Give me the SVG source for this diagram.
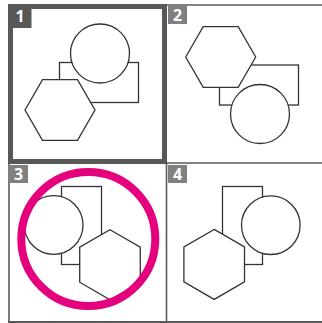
<svg xmlns="http://www.w3.org/2000/svg" width="322" height="323" viewBox="0 0 322 323">
<style>
.shape{fill:#fff;stroke:#333;stroke-width:1.3}
.grid{stroke:#5a5a5a;stroke-width:1.6;fill:none}
.lab{font-family:"Open Sans","Liberation Sans",sans-serif;font-weight:bold;font-size:16px;fill:#fff;text-anchor:middle}
.boxd{fill:#585858}
.boxl{fill:#808080}
</style>
<rect width="322" height="323" fill="#fff"/>
<g id="grid">
<line class="grid" x1="165" y1="5" x2="322" y2="5"/>
<line class="grid" x1="165" y1="163" x2="322" y2="163"/>
<line class="grid" x1="9" y1="162" x2="9" y2="322"/>
<line class="grid" x1="166.5" y1="162" x2="166.5" y2="322"/>
<line class="grid" x1="8" y1="322" x2="322" y2="322" style="stroke-width:2"/>
<rect x="10.5" y="6.5" width="154" height="155" fill="none" stroke="#585858" stroke-width="5"/>
</g>
<g id="panel1">
<rect class="shape" x="59.5" y="62.5" width="79" height="40"/>
<circle class="shape" cx="100" cy="53.5" r="29.5"/>
<polygon class="shape" points="25,110 42.5,79.7 77.5,79.7 95,110 77.5,140.3 42.5,140.3"/>
<rect class="boxd" x="8" y="4" width="23.5" height="24"/>
<text class="lab" x="20" y="22">1</text>
</g>
<g id="panel2">
<rect class="shape" x="219.5" y="65" width="79" height="40"/>
<polygon class="shape" points="185.7,57 203.2,26.7 238.2,26.7 255.7,57 238.2,87.3 203.2,87.3"/>
<circle class="shape" cx="260" cy="114" r="29.5"/>
<rect class="boxl" x="168" y="5" width="19" height="19"/>
<text class="lab" x="177.5" y="20.5">2</text>
</g>
<g id="panel3">
<rect class="shape" x="61.5" y="186.5" width="40" height="78"/>
<circle class="shape" cx="53.7" cy="225" r="29.3"/>
<polygon class="shape" points="110,229.7 140.3,247.2 140.3,282.2 110,299.7 79.7,282.2 79.7,247.2"/>
<circle cx="88.3" cy="239" r="67" fill="none" stroke="#e5007d" stroke-width="8"/>
<rect class="boxl" x="9" y="165" width="19" height="18"/>
<text class="lab" x="18.5" y="180">3</text>
</g>
<g id="panel4">
<rect class="shape" x="222.5" y="186.5" width="40" height="78"/>
<circle class="shape" cx="270.8" cy="225.2" r="29.3"/>
<polygon class="shape" points="214.2,229.4 244.5,246.9 244.5,281.9 214.2,299.4 183.9,281.9 183.9,246.9"/>
<rect class="boxl" x="168" y="165" width="19" height="18"/>
<text class="lab" x="177.5" y="180">4</text>
</g>
<g id="connectors"/>
</svg>
